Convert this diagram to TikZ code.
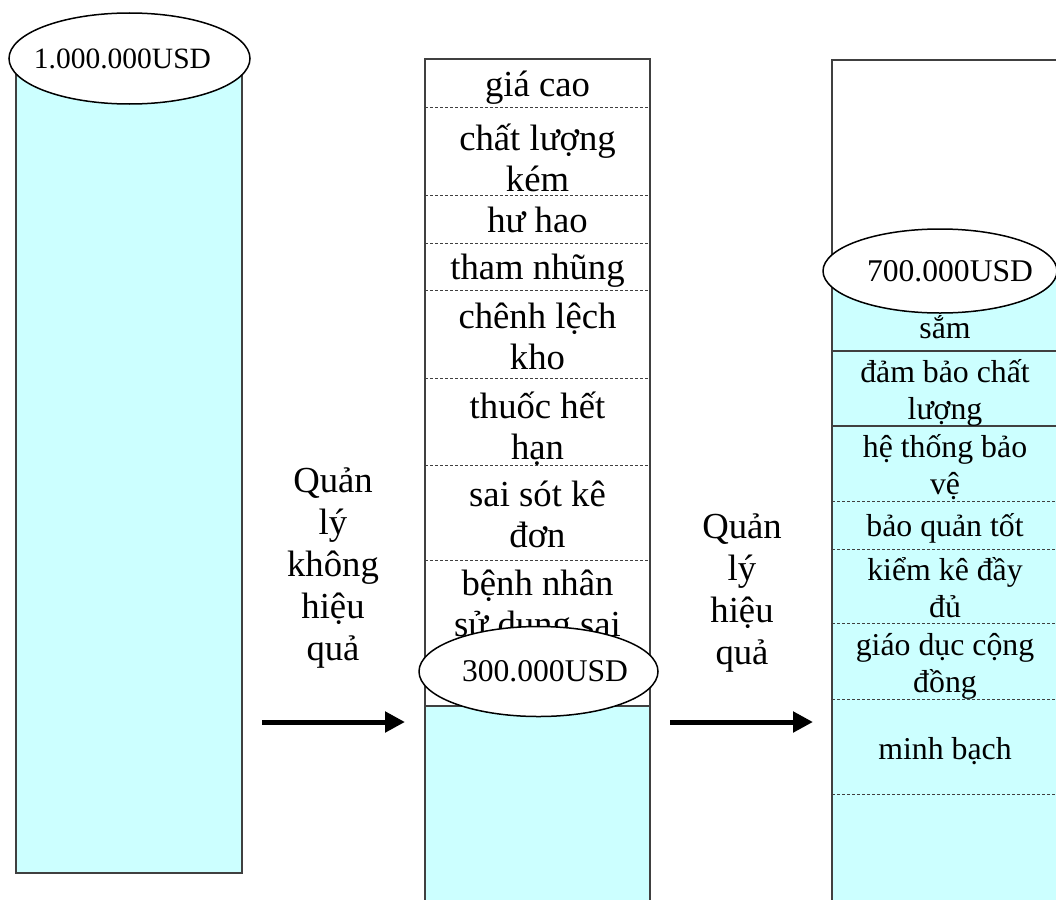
\documentclass[tikz,border=0pt]{standalone}
\usepackage{fontspec}
\setmainfont{Liberation Serif}
\usetikzlibrary{shapes.geometric,arrows.meta}
\definecolor{lcyan}{HTML}{CCFFFF}
\definecolor{edgegray}{HTML}{404040}
\newcommand\cellstack[1]{\vtop{\lineskiplimit=-100pt\lineskip=0pt\halign{\hfil##\hfil\cr#1\crcr}}}
\begin{document}
\begin{tikzpicture}[x=1pt,y=-1pt,
  col/.style={draw=edgegray, line width=1.6pt},
  sep/.style={draw=edgegray, line width=1pt, dash pattern=on 3pt off 2pt},
  solidsep/.style={draw=edgegray, line width=1.2pt},
  money/.style={ellipse, draw=black, line width=1.5pt, fill=white, inner sep=0pt, outer sep=0pt},
  mid/.style={anchor=base, inner sep=0pt, font=\fontsize{36.7}{41.5}\selectfont},
  rgt/.style={anchor=base, inner sep=0pt, font=\fontsize{31.8}{37}\selectfont},
  lbl/.style={anchor=base, inner sep=0pt, font=\fontsize{36.7}{42}\selectfont},
  flow/.style={line width=5pt, -{Triangle[length=20pt,width=20pt]}}
]
\useasboundingbox (0,0) rectangle (1056,899);
\clip (0,0) rectangle (1056,899);

% ---------- left column ----------
\draw[col, fill=lcyan] (16,58) rectangle (242,873);
\node[money, minimum width=241pt, minimum height=91pt, font=\fontsize{29.5}{34}\selectfont] (m1) at (129.5,58.5) {\makebox[0pt]{1.000.000USD\hspace*{14pt}}};

% ---------- middle column ----------
\fill[white] (425,59) rectangle (650,920);
\fill[lcyan] (425,706) rectangle (650,920);
\foreach \yy in {107,195,243,290,378,465,560}
  \draw[sep] (425,\yy) -- (650,\yy);
\draw[solidsep] (425,706) -- (650,706);
\draw[col] (425,59) rectangle (650,920);

\node[mid] (b1) at (537.5,96) {giá cao};
\node[mid] (b2) at (537.5,150) {\cellstack{chất lượng\cr kém}};
\node[mid] (b3) at (537.5,232) {hư hao};
\node[mid] (b4) at (537.5,279) {tham nhũng};
\node[mid] (b5) at (537.5,328) {\cellstack{chênh lệch\cr kho}};
\node[mid] (b6) at (537.5,418) {\cellstack{thuốc hết\cr hạn}};
\node[mid] (b7) at (537.5,506) {\cellstack{sai sót kê\cr đơn}};
\node[mid] (b8) at (537.5,595) {\cellstack{bệnh nhân\cr sử dụng sai}};

\node[money, minimum width=239pt, minimum height=90pt, font=\fontsize{31.6}{36}\selectfont] (m2) at (538.5,671.5) {\makebox[0pt]{\hspace*{13pt}300.000USD}};

% ---------- right column ----------
\fill[white] (832,60) rectangle (1070,920);
\fill[lcyan] (832,271) rectangle (1070,920);
\draw[solidsep] (832,351) -- (1070,351);
\draw[solidsep] (832,426) -- (1070,426);
\foreach \yy in {501,549,623,699,794}
  \draw[sep] (832,\yy) -- (1070,\yy);
\draw[col] (832,60) rectangle (1070,920);

\node[rgt] (g1) at (945,338) {sắm};
\node[rgt] (g2) at (945,382) {\cellstack{đảm bảo chất\cr lượng}};
\node[rgt] (g3) at (945,457) {\cellstack{hệ thống bảo\cr vệ}};
\node[rgt] (g4) at (945,536) {bảo quản tốt};
\node[rgt] (g5) at (945,580) {\cellstack{kiểm kê đầy\cr đủ}};
\node[rgt] (g6) at (945,655) {\cellstack{giáo dục cộng\cr đồng}};
\node[rgt] (g7) at (945,759) {minh bạch};

\node[money, minimum width=234pt, minimum height=84pt, font=\fontsize{31.6}{36}\selectfont] (m3) at (940,271) {\makebox[0pt]{\hspace*{20pt}700.000USD}};

% ---------- transitions ----------
\node[lbl] (t1) at (333,492) {\cellstack{Quản\cr lý\cr không\cr hiệu\cr quả}};
\node[lbl] (t2) at (742,538) {\cellstack{Quản\cr lý\cr hiệu\cr quả}};

\coordinate (p1) at (262,722);
\coordinate (q1) at (405,722);
\coordinate (p2) at (670,722);
\coordinate (q2) at (813,722);
\draw[flow] (p1) -- (q1);
\draw[flow] (p2) -- (q2);
\end{tikzpicture}
\end{document}
